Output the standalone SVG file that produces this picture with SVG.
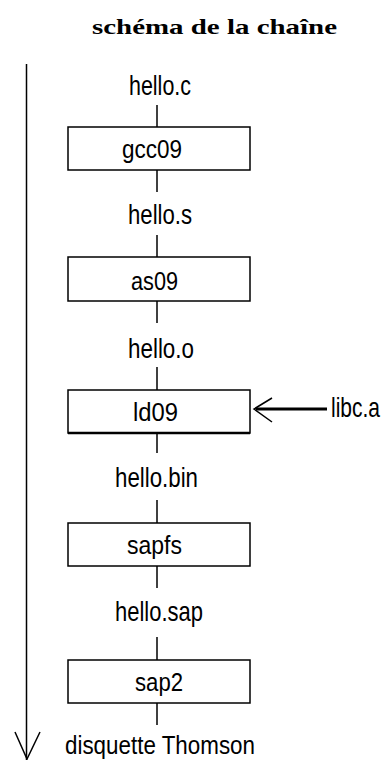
<svg xmlns="http://www.w3.org/2000/svg" width="384" height="760" viewBox="0 0 384 760">
<style>
.bg{fill:#fff}
.box{fill:#fff;stroke:#000;stroke-width:1.5}
.ln{stroke:#000;stroke-width:1.5;fill:none}
.lbl{font-family:"Liberation Sans",Arial,sans-serif;font-size:28px;fill:#000}
.blbl{font-family:"Liberation Sans",Arial,sans-serif;font-size:25px;fill:#000}
.title{font-family:"Liberation Serif","Times New Roman",serif;font-size:21px;font-weight:bold;fill:#000}
</style>
<rect class="bg" x="0" y="0" width="384" height="760"/>
<text class="title" x="92" y="34" textLength="245" lengthAdjust="spacingAndGlyphs">schéma de la chaîne</text>
<g id="connectors">
<line class="ln" x1="26.5" y1="64" x2="26.5" y2="760"/>
<polyline class="ln" points="15,732 27,759 40,732"/>
<line class="ln" x1="157" y1="105" x2="157" y2="127"/>
<line class="ln" x1="157" y1="170" x2="157" y2="192"/>
<line class="ln" x1="157" y1="235" x2="157" y2="257"/>
<line class="ln" x1="157" y1="301" x2="157" y2="323"/>
<line class="ln" x1="157" y1="367" x2="157" y2="390"/>
<line class="ln" x1="157" y1="433" x2="157" y2="453"/>
<line class="ln" x1="157" y1="500" x2="157" y2="523"/>
<line class="ln" x1="157" y1="566" x2="157" y2="588"/>
<line class="ln" x1="157" y1="637" x2="157" y2="660"/>
<line class="ln" x1="157" y1="703" x2="157" y2="725"/>
<line x1="256" y1="409" x2="327" y2="409" stroke="#000" stroke-width="3"/>
<polyline class="ln" points="272,398 254,409 272,422"/>
</g>
<g id="hello-c"><text class="lbl" x="129" y="95" textLength="62" lengthAdjust="spacingAndGlyphs">hello.c</text></g>
<g id="gcc09"><rect class="box" x="68" y="127" width="182" height="43"/><text class="blbl" x="122" y="158" textLength="60" lengthAdjust="spacingAndGlyphs">gcc09</text></g>
<g id="hello-s"><text class="lbl" x="128" y="224" textLength="64" lengthAdjust="spacingAndGlyphs">hello.s</text></g>
<g id="as09"><rect class="box" x="68" y="257" width="182" height="44"/><text class="blbl" x="131" y="290" textLength="47" lengthAdjust="spacingAndGlyphs">as09</text></g>
<g id="hello-o"><text class="lbl" x="128" y="358" textLength="66" lengthAdjust="spacingAndGlyphs">hello.o</text></g>
<g id="ld09"><rect class="box" x="68" y="390" width="182" height="43"/><line x1="68" y1="433" x2="250" y2="433" stroke="#000" stroke-width="2.5"/><text class="blbl" x="133" y="421" textLength="45" lengthAdjust="spacingAndGlyphs">ld09</text></g>
<g id="libc-a"><text class="lbl" style="font-size:21px" transform="translate(331 417) scale(1 1.3)" x="0" y="0">libc.a</text></g>
<g id="hello-bin"><text class="lbl" x="115" y="487" textLength="83" lengthAdjust="spacingAndGlyphs">hello.bin</text></g>
<g id="sapfs"><rect class="box" x="68" y="523" width="182" height="43"/><text class="blbl" x="127" y="554" textLength="55" lengthAdjust="spacingAndGlyphs">sapfs</text></g>
<g id="hello-sap"><text class="lbl" x="115" y="621" textLength="88" lengthAdjust="spacingAndGlyphs">hello.sap</text></g>
<g id="sap2"><rect class="box" x="68" y="660" width="182" height="43"/><text class="blbl" x="135" y="691" textLength="48" lengthAdjust="spacingAndGlyphs">sap2</text></g>
<g id="disquette"><text class="lbl" style="font-size:25px" x="65" y="754" textLength="190" lengthAdjust="spacingAndGlyphs">disquette Thomson</text></g>
</svg>
